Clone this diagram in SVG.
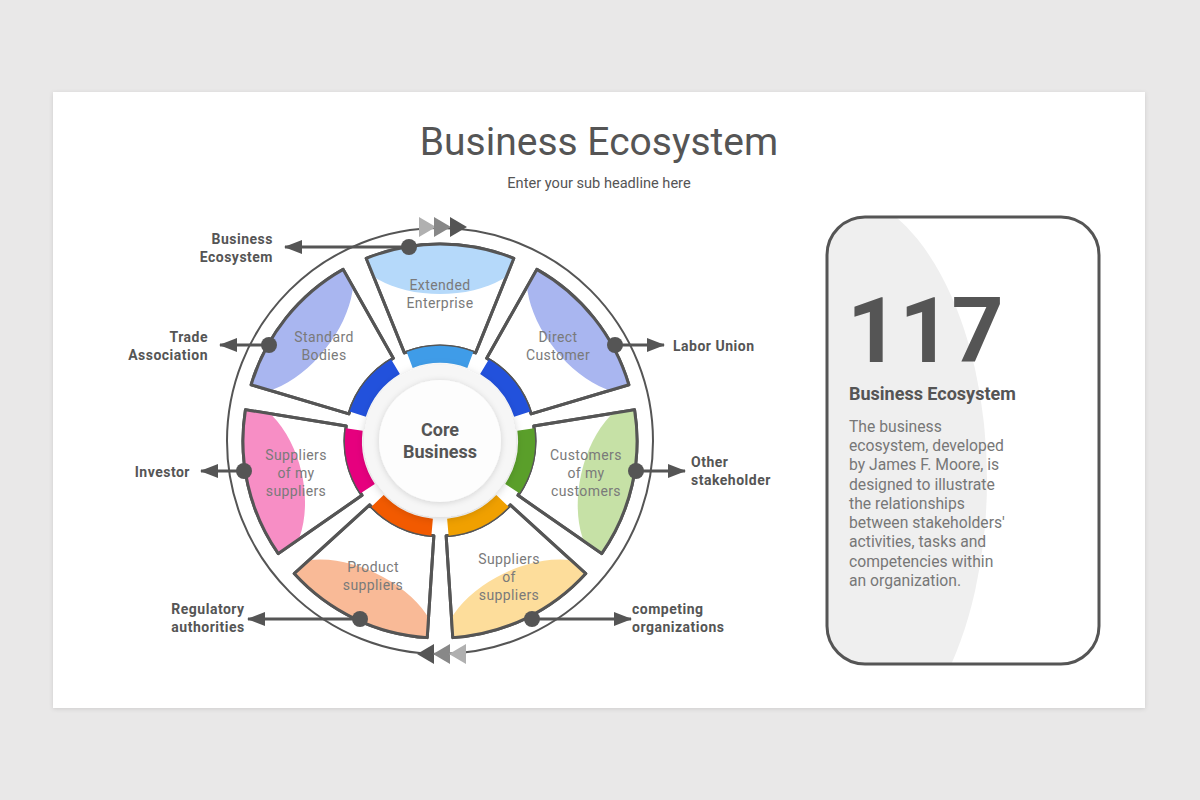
<svg xmlns="http://www.w3.org/2000/svg" width="1200" height="800" viewBox="0 0 1200 800">
  <style>
    .seg { fill: #ffffff; stroke: #555555; stroke-width: 3; stroke-linejoin: round; }
    .segtxt { font-family: Roboto, "Liberation Sans", sans-serif; font-size: 14px; fill: #7a7a7a; text-anchor: middle; letter-spacing: 0.4px; }
    .lbl { font-family: Roboto, "Liberation Sans", sans-serif; font-size: 14px; font-weight: bold; fill: #555555; letter-spacing: 0.5px; }
    .conn { stroke: #555555; stroke-width: 3; fill: none; }
    .dot { fill: #555555; }
  </style>
  <defs>
    <filter id="panelShadow" x="-5%" y="-5%" width="110%" height="110%">
      <feDropShadow dx="0" dy="1" stdDeviation="2" flood-color="#000" flood-opacity="0.12"/>
    </filter>
    <filter id="coreShadow" x="-30%" y="-30%" width="160%" height="160%">
      <feDropShadow dx="0" dy="2" stdDeviation="4" flood-color="#000" flood-opacity="0.18"/>
    </filter>
    <filter id="innerShadow" x="-30%" y="-30%" width="160%" height="160%">
      <feDropShadow dx="0" dy="1" stdDeviation="3" flood-color="#000" flood-opacity="0.15"/>
    </filter>
    <path id="segShape" d="M -73.8,-182.7 A 197 197 0 0 1 73.8,-182.7 L 35.6,-88.1 A 95 95 0 0 0 -35.6,-88.1 Z"/>
    <path id="bandShape" d="M -33.3,-89.0 A 95 95 0 0 1 33.3,-89.0 L 27.3,-73.1 A 78 78 0 0 0 -27.3,-73.1 Z"/>
    <clipPath id="segClip"><use href="#segShape"/></clipPath>
    <clipPath id="cardClip"><rect x="827" y="217" width="272" height="447" rx="38"/></clipPath>
    <marker id="arrow" markerUnits="userSpaceOnUse" markerWidth="18" markerHeight="14" refX="17" refY="7" orient="auto">
      <path d="M0,0 L18,7 L0,14 Z" fill="#555555"/>
    </marker>
  </defs>

  <!-- background -->
  <rect x="0" y="0" width="1200" height="800" fill="#e9e8e8"/>
  <rect x="53" y="92" width="1092" height="616" fill="#ffffff" filter="url(#panelShadow)"/>

  <!-- titles -->
  <text x="599" y="155" text-anchor="middle" font-family="Roboto, 'Liberation Sans', sans-serif" font-size="39" fill="#555555">Business Ecosystem</text>
  <text x="599" y="188" text-anchor="middle" font-family="Roboto, 'Liberation Sans', sans-serif" font-size="14.6" fill="#555555">Enter your sub headline here</text>

  <!-- outer rotating ring -->
  <g id="ring">
    <circle cx="440" cy="441" r="213" fill="none" stroke="#555555" stroke-width="2"/>
    <polygon points="419,217 436,227 419,237" fill="#b0b0b0"/>
    <polygon points="434,217 451,227 434,237" fill="#888888"/>
    <polygon points="450,217 467,227 450,237" fill="#555555"/>
    <polygon points="434,644 417,654 434,664" fill="#555555"/>
    <polygon points="450,644 433,654 450,664" fill="#888888"/>
    <polygon points="466,644 449,654 466,664" fill="#b0b0b0"/>
  </g>

  <!-- segments -->
  <g id="seg-extended-enterprise">
    <g transform="translate(440,441) rotate(0)">
      <use href="#segShape" class="seg"/>
      <ellipse cx="0" cy="-197" rx="88" ry="50" fill="#b5d9fa" clip-path="url(#segClip)"/>
      <use href="#segShape" fill="none" stroke="#555555" stroke-width="3" stroke-linejoin="round"/>
      <use href="#bandShape" fill="#3f9ce8"/>
    </g>
    <text class="segtxt" x="440" y="290">Extended</text>
    <text class="segtxt" x="440" y="308">Enterprise</text>
  </g>
  <g id="seg-direct-customer">
    <g transform="translate(440,441) rotate(51.4286)">
      <use href="#segShape" class="seg"/>
      <ellipse cx="0" cy="-197" rx="88" ry="50" fill="#a9b6f0" clip-path="url(#segClip)"/>
      <use href="#segShape" fill="none" stroke="#555555" stroke-width="3" stroke-linejoin="round"/>
      <use href="#bandShape" fill="#2251dc"/>
    </g>
    <text class="segtxt" x="558" y="342">Direct</text>
    <text class="segtxt" x="558" y="360">Customer</text>
  </g>
  <g id="seg-customers-of-my-customers">
    <g transform="translate(440,441) rotate(102.857)">
      <use href="#segShape" class="seg"/>
      <ellipse cx="0" cy="-197" rx="88" ry="52" fill="#c6e1a6" clip-path="url(#segClip)"/>
      <use href="#segShape" fill="none" stroke="#555555" stroke-width="3" stroke-linejoin="round"/>
      <use href="#bandShape" fill="#5a9f2a"/>
    </g>
    <text class="segtxt" x="586" y="460">Customers</text>
    <text class="segtxt" x="586" y="478">of my</text>
    <text class="segtxt" x="586" y="496">customers</text>
  </g>
  <g id="seg-suppliers-of-suppliers">
    <g transform="translate(440,441) rotate(154.286)">
      <use href="#segShape" class="seg"/>
      <ellipse cx="0" cy="-197" rx="88" ry="50" fill="#fddd9b" clip-path="url(#segClip)"/>
      <use href="#segShape" fill="none" stroke="#555555" stroke-width="3" stroke-linejoin="round"/>
      <use href="#bandShape" fill="#f0a000"/>
    </g>
    <text class="segtxt" x="509" y="564">Suppliers</text>
    <text class="segtxt" x="509" y="582">of</text>
    <text class="segtxt" x="509" y="600">suppliers</text>
  </g>
  <g id="seg-product-suppliers">
    <g transform="translate(440,441) rotate(205.714)">
      <use href="#segShape" class="seg"/>
      <ellipse cx="0" cy="-197" rx="88" ry="50" fill="#f9ba97" clip-path="url(#segClip)"/>
      <use href="#segShape" fill="none" stroke="#555555" stroke-width="3" stroke-linejoin="round"/>
      <use href="#bandShape" fill="#f25a00"/>
    </g>
    <text class="segtxt" x="373" y="572">Product</text>
    <text class="segtxt" x="373" y="590">suppliers</text>
  </g>
  <g id="seg-suppliers-of-my-suppliers">
    <g transform="translate(440,441) rotate(257.143)">
      <use href="#segShape" class="seg"/>
      <ellipse cx="0" cy="-197" rx="88" ry="55" fill="#f78ec5" clip-path="url(#segClip)"/>
      <use href="#segShape" fill="none" stroke="#555555" stroke-width="3" stroke-linejoin="round"/>
      <use href="#bandShape" fill="#e6007e"/>
    </g>
    <text class="segtxt" x="296" y="460">Suppliers</text>
    <text class="segtxt" x="296" y="478">of my</text>
    <text class="segtxt" x="296" y="496">suppliers</text>
  </g>
  <g id="seg-standard-bodies">
    <g transform="translate(440,441) rotate(308.571)">
      <use href="#segShape" class="seg"/>
      <ellipse cx="0" cy="-197" rx="88" ry="50" fill="#a9b6f0" clip-path="url(#segClip)"/>
      <use href="#segShape" fill="none" stroke="#555555" stroke-width="3" stroke-linejoin="round"/>
      <use href="#bandShape" fill="#2251dc"/>
    </g>
    <text class="segtxt" x="324" y="342">Standard</text>
    <text class="segtxt" x="324" y="360">Bodies</text>
  </g>

  <!-- core -->
  <g id="core-business">
    <circle cx="440" cy="441" r="76" fill="#f6f6f6" filter="url(#coreShadow)"/>
    <circle cx="440" cy="441" r="61" fill="#fdfdfd" filter="url(#innerShadow)"/>
    <text x="440" y="436" text-anchor="middle" font-family="Roboto, 'Liberation Sans', sans-serif" font-size="18" font-weight="bold" fill="#555555">Core</text>
    <text x="440" y="458" text-anchor="middle" font-family="Roboto, 'Liberation Sans', sans-serif" font-size="18" font-weight="bold" fill="#555555">Business</text>
  </g>

  <!-- connectors -->
  <g id="connectors">
    <line class="conn" x1="409" y1="247" x2="285" y2="247" marker-end="url(#arrow)"/>
    <line class="conn" x1="269" y1="345" x2="220" y2="345" marker-end="url(#arrow)"/>
    <line class="conn" x1="244" y1="471" x2="201" y2="471" marker-end="url(#arrow)"/>
    <line class="conn" x1="360" y1="619" x2="248" y2="619" marker-end="url(#arrow)"/>
    <line class="conn" x1="615" y1="345" x2="664" y2="345" marker-end="url(#arrow)"/>
    <line class="conn" x1="636" y1="471" x2="685" y2="471" marker-end="url(#arrow)"/>
    <line class="conn" x1="532" y1="619" x2="631" y2="619" marker-end="url(#arrow)"/>
    <circle class="dot" cx="409" cy="247" r="8"/>
    <circle class="dot" cx="269" cy="345" r="8"/>
    <circle class="dot" cx="244" cy="471" r="8"/>
    <circle class="dot" cx="360" cy="619" r="8"/>
    <circle class="dot" cx="615" cy="345" r="8"/>
    <circle class="dot" cx="636" cy="471" r="8"/>
    <circle class="dot" cx="532" cy="619" r="8"/>
  </g>

  <!-- external labels -->
  <g id="label-business-ecosystem">
    <text class="lbl" x="273" y="244" text-anchor="end">Business</text>
    <text class="lbl" x="273" y="262" text-anchor="end">Ecosystem</text>
  </g>
  <g id="label-trade-association">
    <text class="lbl" x="208" y="342" text-anchor="end">Trade</text>
    <text class="lbl" x="208" y="360" text-anchor="end">Association</text>
  </g>
  <g id="label-investor">
    <text class="lbl" x="190" y="477" text-anchor="end">Investor</text>
  </g>
  <g id="label-regulatory-authorities">
    <text class="lbl" x="208" y="614" text-anchor="middle">Regulatory</text>
    <text class="lbl" x="208" y="632" text-anchor="middle">authorities</text>
  </g>
  <g id="label-labor-union">
    <text class="lbl" x="673" y="351">Labor Union</text>
  </g>
  <g id="label-other-stakeholder">
    <text class="lbl" x="691" y="467">Other</text>
    <text class="lbl" x="691" y="485">stakeholder</text>
  </g>
  <g id="label-competing-organizations">
    <text class="lbl" x="632" y="614">competing</text>
    <text class="lbl" x="632" y="632">organizations</text>
  </g>

  <!-- info card -->
  <g id="info-card">
    <rect x="827" y="217" width="272" height="447" rx="38" fill="#ffffff"/>
    <ellipse cx="830" cy="480" rx="157" ry="290" fill="#efefef" clip-path="url(#cardClip)"/>
    <rect x="827" y="217" width="272" height="447" rx="38" fill="none" stroke="#555555" stroke-width="3"/>
    <text x="847" y="362" font-family="Roboto, 'Liberation Sans', sans-serif" font-size="91" font-weight="bold" fill="#555555">117</text>
    <text x="849" y="400" font-family="Roboto, 'Liberation Sans', sans-serif" font-size="18" font-weight="bold" fill="#555555">Business Ecosystem</text>
    <g font-family="Roboto, 'Liberation Sans', sans-serif" font-size="15.7" fill="#777777">
      <text x="849" y="432">The business</text>
      <text x="849" y="451">ecosystem, developed</text>
      <text x="849" y="470">by James F. Moore, is</text>
      <text x="849" y="490">designed to illustrate</text>
      <text x="849" y="509">the relationships</text>
      <text x="849" y="528">between stakeholders'</text>
      <text x="849" y="547">activities, tasks and</text>
      <text x="849" y="567">competencies within</text>
      <text x="849" y="586">an organization.</text>
    </g>
  </g>
</svg>
